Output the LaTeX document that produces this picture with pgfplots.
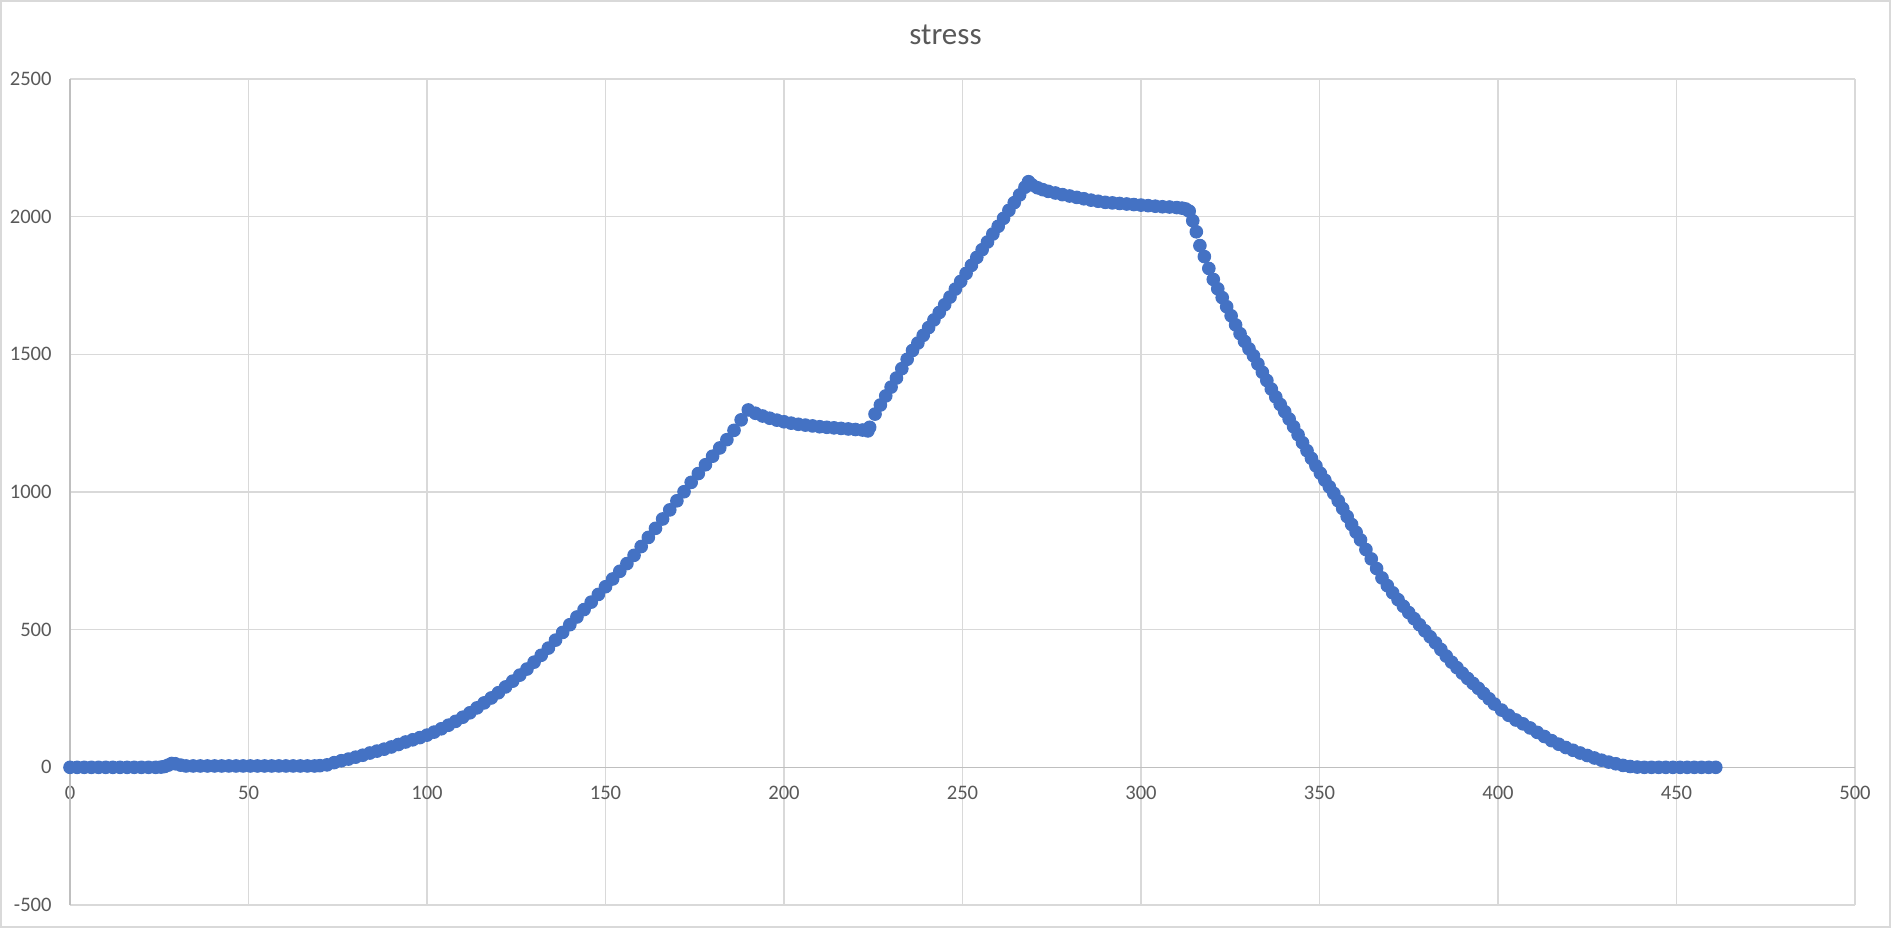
\documentclass[border=0pt]{standalone}
\usepackage{pgfplots}
\pgfplotsset{compat=1.18}
\usepackage{fontspec}
\setmainfont{Carlito}
\definecolor{gridgray}{HTML}{D9D9D9}
\definecolor{axisgray}{HTML}{BFBFBF}
\definecolor{labelgray}{HTML}{595959}
\definecolor{serblue}{HTML}{4472C4}
\begin{document}
\begin{tikzpicture}
\useasboundingbox (0,0) rectangle (945.5pt,464pt);
\draw[draw=gridgray, line width=0.75pt] (0.4pt,0.4pt) rectangle (945.1pt,463.6pt);
\begin{axis}[
  at={(35pt,11.5pt)}, anchor=south west,
  width=892.5pt, height=413pt, scale only axis,
  xmin=0, xmax=500, ymin=-500, ymax=2500,
  xtick={0,50,...,500}, ytick={-500,0,...,2500},
  grid=major,
  major grid style={draw=gridgray, line width=0.8pt},
  axis line style={draw=none},
  major tick length=0pt,
  scaled ticks=false,
  /pgf/number format/1000 sep={},
  /pgf/number format/assume math mode=true,
  ticklabel style={font=\fontsize{10.3}{12}\selectfont, text=labelgray},
  yticklabel style={anchor=east, inner sep=0pt, xshift=-9pt},
  xticklabel style={anchor=north, inner sep=0pt, yshift=59.8pt},
  clip=false,
]
\draw[axisgray, line width=0.8pt] (axis cs:0,-500) -- (axis cs:0,2500);
\draw[axisgray, line width=0.8pt] (axis cs:0,0) -- (axis cs:500,0);
\addplot[only marks, mark=*, mark size=3.15pt, color=serblue,
  mark options={draw=serblue, fill=serblue, line width=0.5pt}] coordinates {
(0,0)(2,0)(4,0)(6,0)(8,0)(10,0)(12,0)(14,0)(16,0)(18,0)(20,0)(22,0)(24,0)(25.5,1)
(26.5,3)(27.5,8)(28.5,14)(29.5,13)(31,8)(32.5,5)(34.5,5)(36.5,5)(38.5,5)(40.5,5)(42.5,5)
(44.5,5)(46.5,5)(48.5,5)(50.5,5)(52.5,5)(54.5,5)(56.5,5)(58.5,5)(60.5,5)(62.5,5)(64.5,5)(66.5,5)(68.5,5)(70,6)
(72,9)(74,17)(76,24)(78,30)(80,37)(82,44)(84,52)(86,59)(88,66)(90,74)
(92,83)(94,92)(96,100)(98,108)(100,117)(102,128)(104,140)(106,153)(108,167)(110,182)
(112,198)(114,216)(116,234)(118,252)(120,271)(122,292)(124,313)(126,335)(128,357)(130,382)
(132,407)(134,433)(136,462)(138,490)(140,518)(142,546)(144,573)(146,600)(148,628)(150,656)
(152,684)(154,712)(156,740)(158,770)(160,802)(162,835)(164,868)(166,902)(168,935)(170,968)
(172,1001)(174,1035)(176,1067)(178,1099)(180,1130)(182,1160)(184,1190)(186,1224)(188,1262)(190,1298)
(192,1286)(194,1276)(196,1268)(198,1261)(200,1255)(202,1250)(204,1246)(206,1243)(208,1240)(210,1237)
(212,1235)(214,1233)(216,1231)(218,1229)(220,1227)(222,1225)(223.5,1222)
(224,1235)(225.5,1283)(227,1316)(228.5,1349)(230,1381)(231.5,1414)(233,1448)(234.5,1482)(236,1514)
(237.5,1541)(239,1569)(240.5,1597)(242,1625)(243.5,1652)(245,1680)(246.5,1708)(248,1737)(249.5,1765)
(251,1794)(252.5,1823)(254,1852)(255.5,1880)(257,1908)(258.5,1937)(260,1965)(261.5,1994)(263,2023)
(264.5,2051)(266,2079)(267.5,2107)(268.5,2127)
(269.5,2115)(271,2105)(272.5,2098)(274,2092)(276,2086)(278,2080)(280,2075)(282,2070)(284,2065)
(286,2060)(288,2056)(290,2052)(292,2050)(294,2048)(296,2046)(298,2044)(300,2042)(302,2040)
(304,2038)(306,2036)(308,2035)(310,2033)(311.5,2031)(312.5,2028)(313.5,2020)
(314.5,1985)(315.5,1945)(316.5,1895)(317.75,1855)(319,1812)(320.25,1772)(321.5,1738)(322.75,1706)
(324,1673)(325.25,1640)(326.5,1607)(327.75,1575)(329,1547)(330.25,1520)(331.5,1495)(332.75,1465)
(334,1435)(335.25,1405)(336.5,1374)(337.75,1345)(339,1318)(340.25,1292)(341.5,1265)(342.75,1237)
(344,1208)(345.25,1179)(346.5,1150)(347.75,1122)(349,1095)(350.25,1068)(351.5,1043)(352.75,1019)
(354,995)(355.25,968)(356.5,940)(357.75,911)(359,882)(360.25,854)(361.5,826)(363,791)
(364.5,757)(366,722)(367.5,688)(369,660)(370.5,634)(372,609)(373.5,585)(375,562)
(376.5,540)(378,518)(379.5,496)(381,474)(382.5,452)(384,428)(385.5,404)(387,382)
(388.5,362)(390,342)(391.5,323)(393,305)(394.5,287)(396,268)(397.5,249)(399,230)
(401,208)(403,189)(405,172)(407,158)(409,143)(411,127)(413,112)(415,97)(417,84)
(419,72)(421,62)(423,52)(425,43)(427,34)(429,26)(431,19)(433,13)(435,7)(437,3)
(439,1)(441,0)(443,0)(445,0)(447,0)(449,0)(451,0)(453,0)(455,0)(457,0)(459,0)(461,0)
};
\end{axis}
\node[anchor=base, font=\fontsize{15.5}{18}\selectfont, text=labelgray] at (472.75pt,441.5pt) {stress};
\end{tikzpicture}
\end{document}
